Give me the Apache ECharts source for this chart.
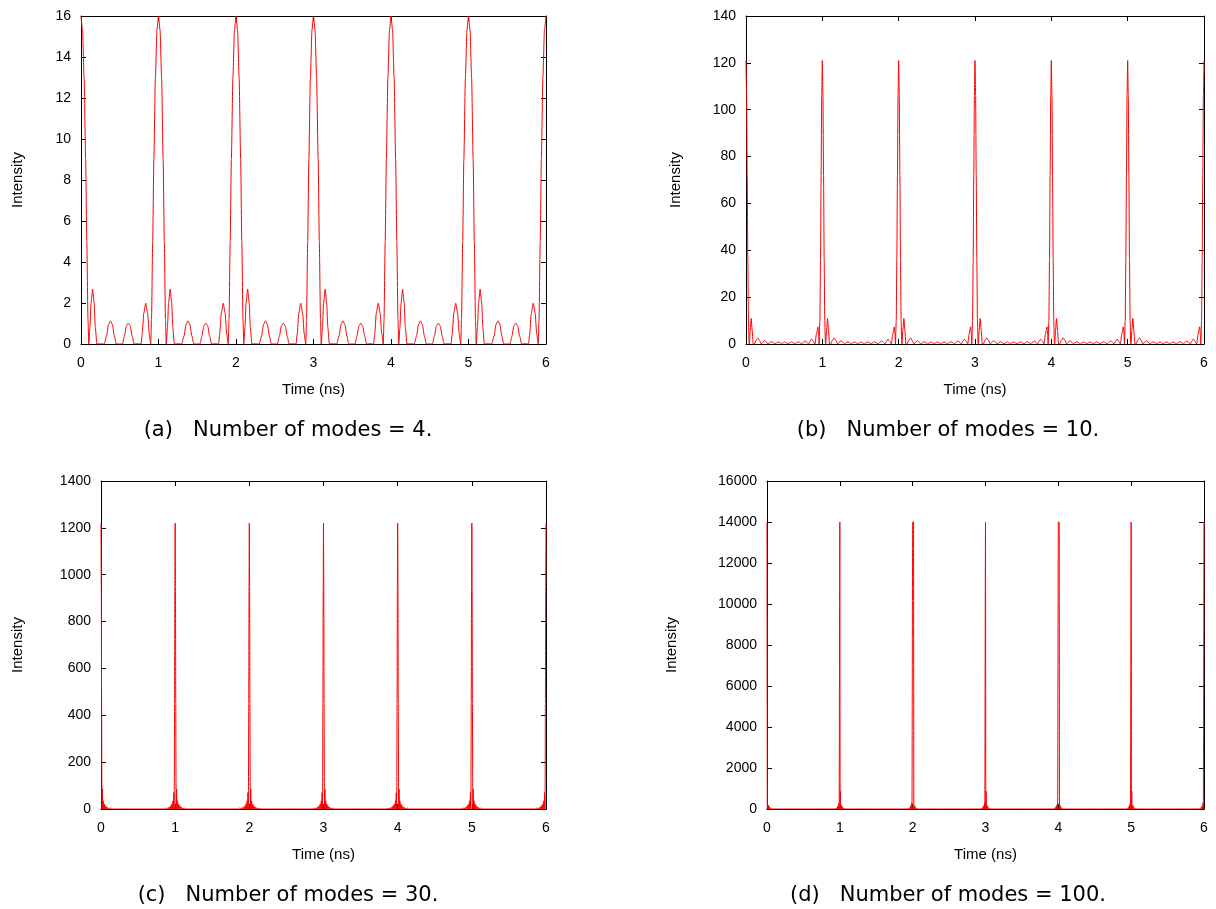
<!DOCTYPE html>
<html>
<head>
<meta charset="utf-8">
<script src="https://cdn.jsdelivr.net/npm/echarts@6/dist/echarts.min.js"></script>
<style>
  html, body { margin: 0; padding: 0; background: #fff; }
  #main { width: 1216px; height: 909px; }
</style>
</head>
<body>
<div id="main"></div>
<script>
// pulse times (ns) - every panel has a main pulse at each integer
var pulseTimes = [0, 1, 2, 3, 4, 5];
var endTime = 6;

// (a) 4 modes: one period, time after the pulse (ns) / intensity
var aOffsets = [0, 0.02, 0.04, 0.06, 0.075, 0.09, 0.1, 0.115, 0.13, 0.15, 0.17, 0.185, 0.205, 0.25, 0.3,
  0.33, 0.355, 0.38, 0.405, 0.43, 0.455, 0.5, 0.535, 0.56, 0.585, 0.61, 0.635, 0.66, 0.685, 0.73, 0.775,
  0.79, 0.81, 0.835, 0.86, 0.88, 0.9, 0.91, 0.925, 0.94, 0.96, 0.98];
var aValues = [16, 15.3, 13, 9, 5, 1.2, 0, 0.8, 2, 2.67, 2, 0.8, 0, 0.01, 0,
  0.4, 0.95, 1.13, 0.95, 0.4, 0, 0, 0, 0.38, 0.88, 1.02, 0.88, 0.38, 0, 0.01, 0,
  0.5, 1.5, 1.99, 1.5, 0.5, 0, 1.2, 5, 9, 13, 15.3];
var aEnd = 16;

// (b) 10 modes
var bOffsets = [0, 0.008, 0.016, 0.024, 0.032, 0.04, 0.044, 0.056, 0.068, 0.08, 0.094, 0.11, 0.13, 0.155,
  0.178, 0.2, 0.222, 0.245, 0.268, 0.29, 0.312, 0.335, 0.358, 0.38, 0.402, 0.425, 0.445, 0.465, 0.485, 0.505,
  0.528, 0.55, 0.572, 0.595, 0.618, 0.64, 0.662, 0.685, 0.708, 0.73, 0.752, 0.775, 0.798, 0.82, 0.84, 0.86,
  0.882, 0.905, 0.922, 0.943, 0.952, 0.958, 0.968, 0.976, 0.984, 0.992];
var bValues = [121, 106, 72, 36, 10, 0.5, 0, 6.2, 10.9, 6.2, 0.05, 0, 1.5, 2.6,
  1.5, 0, 0.8, 1.4, 0.8, 0, 0.58, 1, 0.58, 0, 0.52, 0.9, 0.52, 0, 0.52, 0.9,
  0.52, 0, 0.52, 0.9, 0.52, 0, 0.58, 1, 0.58, 0, 0.75, 1.3, 0.75, 0, 1.2, 2.1,
  1.2, 0, 4.2, 7.3, 4.2, 0, 10, 36, 72, 106];
var bEnd = 121;

// (c) 30 modes
var cOffsets = [0, 0.004, 0.008, 0.012, 0.014, 0.019, 0.024, 0.03, 0.036, 0.043, 0.049, 0.056, 0.062, 0.07,
  0.076, 0.085, 0.093, 0.105, 0.115, 0.13, 0.145, 0.5, 0.855, 0.87, 0.885, 0.895, 0.907, 0.915, 0.924, 0.93,
  0.938, 0.944, 0.951, 0.957, 0.964, 0.97, 0.976, 0.981, 0.986, 0.988, 0.992, 0.996];
var cValues = [1220, 950, 450, 80, 0, 85, 0, 35, 0, 22, 0, 15, 0, 10,
  0, 7, 0, 5, 0, 4, 0, 0, 0, 4, 0, 5, 0, 7, 0, 10,
  0, 15, 0, 22, 0, 35, 0, 70, 0, 80, 450, 950];
var cEnd = 1220;

// (d) 100 modes, the samples next to each pulse differ from pulse to pulse
var dOffsets = [0, 0.004, 0.008, 0.012, 0.016, 0.02, 0.025, 0.03, 0.036, 0.045, 0.055, 0.5,
  0.945, 0.955, 0.964, 0.97, 0.975, 0.98, 0.984, 0.988, 0.991, 0.996];
var dValues = [14000, 0, 860, 0, 0, 180, 0, 120, 0, 60, 0, 0,
  0, 60, 0, 120, 0, 180, 0, 300, 0, 0];
var dNearA = [0, 0, 14000, 0, 14000, 0];
var dNearB = [200, 860, 14000, 860, 14000, 860];
var dNearC = [0, 0, 14000, 0, 14000, 0];
var dEnd = 14000;

function buildLine(offsets, values, near, endValue) {
  var out = [];
  for (var p = 0; p < pulseTimes.length; p++) {
    for (var i = 0; i < offsets.length; i++) {
      var v = values[i];
      if (near && i >= 1 && i <= near.length) v = near[i - 1][p];
      out.push([pulseTimes[p] + offsets[i], v]);
    }
  }
  out.push([endTime, endValue]);
  return out;
}

var font = '"Liberation Sans", Arial, sans-serif';
var grids = [
  { left: 81, top: 16, right: 670, bottom: 565 },
  { left: 746, top: 16, right: 12, bottom: 565 },
  { left: 101, top: 481, right: 670, bottom: 100 },
  { left: 767, top: 481, right: 12, bottom: 100 }
];
var yMax = [16, 140, 1400, 16000];
var yStep = [2, 20, 200, 2000];
var yNameGap = [56, 63, 76, 88];

var xAxes = [], yAxes = [], series = [];
var lines = [
  buildLine(aOffsets, aValues, null, aEnd),
  buildLine(bOffsets, bValues, null, bEnd),
  buildLine(cOffsets, cValues, null, cEnd),
  buildLine(dOffsets, dValues, [dNearA, dNearB, dNearC], dEnd)
];

for (var g = 0; g < 4; g++) {
  var axisLine = { show: true, onZero: false, lineStyle: { color: '#000', width: 1 } };
  var tick = { show: true, inside: true, length: 5, lineStyle: { color: '#000' } };
  xAxes.push({
    type: 'value', gridIndex: g, min: 0, max: 6, interval: 1, position: 'bottom',
    axisLine: axisLine, axisTick: tick, splitLine: { show: false },
    axisLabel: { color: '#000', fontSize: 14, fontFamily: font, margin: 12 },
    name: 'Time (ns)', nameLocation: 'middle', nameGap: 38, nameMoveOverlap: false,
    nameTextStyle: { color: '#000', fontSize: 15, fontFamily: font }
  });
  xAxes.push({
    type: 'value', gridIndex: g, min: 0, max: 6, interval: 1, position: 'top',
    axisLine: axisLine, axisTick: tick, splitLine: { show: false }, axisLabel: { show: false }
  });
  yAxes.push({
    type: 'value', gridIndex: g, min: 0, max: yMax[g], interval: yStep[g], position: 'left',
    axisLine: axisLine, axisTick: tick, splitLine: { show: false },
    axisLabel: { color: '#000', fontSize: 14, fontFamily: font, margin: 10,
      formatter: function (v) { return String(v); } },
    name: 'Intensity', nameLocation: 'middle', nameGap: yNameGap[g], nameRotate: 90, nameMoveOverlap: false,
    nameTextStyle: { color: '#000', fontSize: 15, fontFamily: font }
  });
  yAxes.push({
    type: 'value', gridIndex: g, min: 0, max: yMax[g], interval: yStep[g], position: 'right',
    axisLine: axisLine, axisTick: tick, splitLine: { show: false }, axisLabel: { show: false }
  });
  series.push({
    type: 'line', xAxisIndex: g * 2, yAxisIndex: g * 2, data: lines[g],
    showSymbol: false, symbol: 'none', smooth: 0.2, smoothMonotone: 'x',
    lineStyle: { color: '#ff0000', width: 1 }, clip: true
  });
}

var captions = ['(a)   Number of modes = 4.', '(b)   Number of modes = 10.',
  '(c)   Number of modes = 30.', '(d)   Number of modes = 100.'];
var capPos = [[288, 431], [948, 431], [288, 896], [948, 896]];
var graphics = [];
for (var k = 0; k < 4; k++) {
  graphics.push({
    type: 'text', x: capPos[k][0], y: capPos[k][1],
    style: { text: captions[k], fill: '#000', font: '21px "DejaVu Sans", sans-serif',
      textAlign: 'center', textVerticalAlign: 'middle' }
  });
}

var chart = echarts.init(document.getElementById('main'));
var option = {
  animation: false,
  backgroundColor: '#fff',
  grid: grids,
  xAxis: xAxes,
  yAxis: yAxes,
  graphic: graphics,
  series: series
};
chart.setOption(option);
</script>
</body>
</html>
